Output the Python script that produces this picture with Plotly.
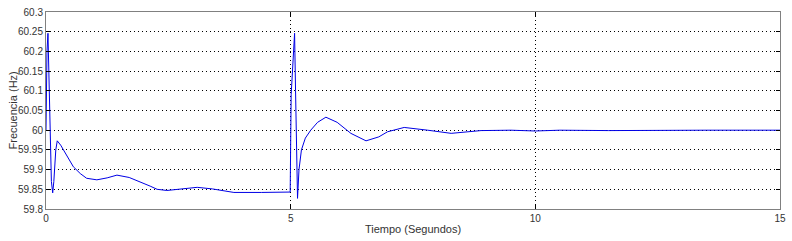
import plotly.graph_objects as go

# Time (s) and frequency (Hz)
t = [0.0, 0.02, 0.04, 0.05, 0.07, 0.085, 0.11, 0.137, 0.16, 0.2, 0.23, 0.3, 0.4, 0.56, 0.7, 0.83,
     1.04, 1.25, 1.45, 1.7, 2.13, 2.27, 2.47, 2.8, 3.09, 3.4, 3.84, 4.4, 4.99,
     5.01, 5.05, 5.08, 5.1, 5.12, 5.14, 5.17, 5.22, 5.3, 5.41, 5.55, 5.72, 5.95,
     6.23, 6.54, 6.8, 6.98, 7.32, 7.8, 8.28, 8.89, 9.5, 10.0, 10.5, 11.5, 12.5, 13.5, 15.0]
f = [60.0, 60.2, 60.246, 60.2, 60.1, 60.03, 59.87, 59.841, 59.87, 59.95, 59.973, 59.962, 59.94, 59.907, 59.89, 59.878,
     59.874, 59.879, 59.886, 59.88, 59.858, 59.85, 59.847, 59.851, 59.855, 59.851, 59.842, 59.842, 59.843,
     60.09, 60.2, 60.246, 60.1, 59.9, 59.827, 59.9, 59.95, 59.98, 60.0, 60.02, 60.033, 60.02,
     59.992, 59.973, 59.983, 59.996, 60.007, 60.0, 59.992, 59.999, 60.0, 59.998, 60.0, 59.999, 60.0, 60.0, 60.0]

y_ticks = [59.8, 59.85, 59.9, 59.95, 60.0, 60.05, 60.1, 60.15, 60.2, 60.25, 60.3]
y_labels = ["59.8", "59.85", "59.9", "59.95", "60", "60.05", "60.1", "60.15", "60.2", "60.25", "60.3"]
x_ticks = [0, 5, 10, 15]
x_labels = ["0", "5", "10", "15"]

fig = go.Figure()
fig.add_trace(go.Scatter(x=t, y=f, mode="lines", line=dict(color="#0000e6", width=1), showlegend=False))

font_family = "Liberation Sans, Arial"
axis_common = dict(
    showline=True, linecolor="#808080", linewidth=1, mirror="ticks",
    ticks="inside", ticklen=4, tickcolor="#000000",
    showgrid=True, gridcolor="#000000", griddash="1px,3px", gridwidth=1,
    zeroline=False, automargin=False, ticklabeloverflow="allow",
    tickfont=dict(family=font_family, size=10, color="#333333"),
)

fig.update_xaxes(range=[0, 15], tickvals=x_ticks, ticktext=x_labels,
                 title=dict(text="Tiempo (Segundos)", font=dict(family=font_family, size=11, color="#333333"), standoff=2),
                 **axis_common)
fig.update_yaxes(range=[59.8, 60.3], tickvals=y_ticks, ticktext=y_labels, **axis_common)

fig.add_annotation(text="Frecuencia (Hz)", xref="paper", yref="paper", x=0, y=0.5,
                   xanchor="center", yanchor="middle", xshift=-34, textangle=-90, showarrow=False,
                   font=dict(family=font_family, size=11, color="#333333"))

fig.update_layout(
    width=792, height=241,
    margin=dict(l=46, r=12, t=12, b=32, autoexpand=False),
    paper_bgcolor="white", plot_bgcolor="white",
)

# remove the default page margin so the figure fills the window exactly
fig.write_html("out.html", config={"displayModeBar": False},
               post_script="document.body.style.margin='0';document.body.style.overflow='hidden';")
